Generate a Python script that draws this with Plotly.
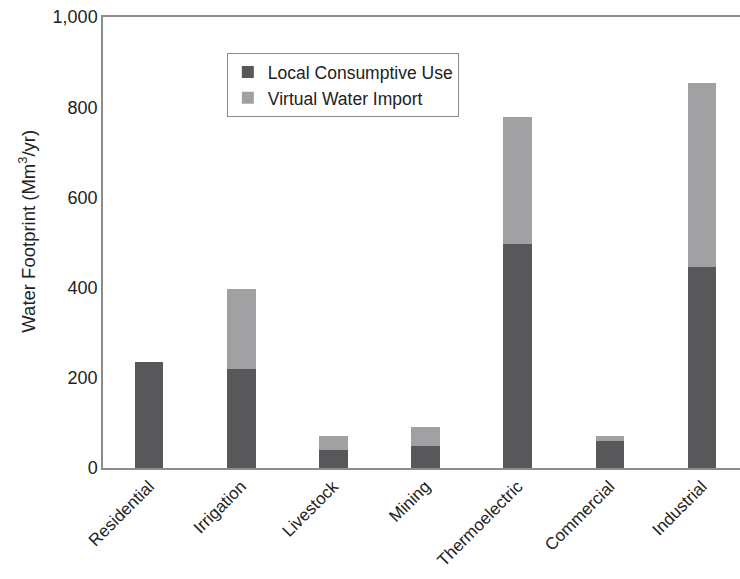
import plotly.graph_objects as go

categories = ["Residential", "Irrigation", "Livestock", "Mining", "Thermoelectric", "Commercial", "Industrial"]
local_use = [234, 220, 40, 49, 497, 59, 445]
virtual_import = [0, 178, 31, 43, 282, 13, 408]
y_ticks = [0, 200, 400, 600, 800, 1000]

dark = "#58585a"
light = "#a1a1a4"
font_family = "Liberation Sans, Arial, sans-serif"

fig = go.Figure()
fig.add_trace(go.Bar(x=categories, y=local_use, name="Local Consumptive Use",
                     marker=dict(color=dark, line=dict(width=0)), width=0.31))
fig.add_trace(go.Bar(x=categories, y=virtual_import, name="Virtual Water Import",
                     marker=dict(color=light, line=dict(width=0)), width=0.31))

fig.update_layout(
    barmode="stack",
    width=748, height=579,
    margin=dict(l=103, r=0, t=17, b=111),
    plot_bgcolor="white", paper_bgcolor="white",
    font=dict(family=font_family, size=17, color="#222222"),
    showlegend=True,
    legend=dict(x=0.192, y=0.92, xanchor="left", yanchor="top",
                bordercolor="#8a8a8a", borderwidth=1, bgcolor="white",
                font=dict(size=17.5, color="#222222"), traceorder="normal",
                itemwidth=30, tracegroupgap=2),
    xaxis=dict(range=[-0.5, 6.5], showline=True, linecolor="#8c8c8c", linewidth=1.5,
               mirror=True, ticks="", tickangle=-45, showgrid=False, automargin=False,
               tickfont=dict(size=17)),
    yaxis=dict(range=[0, 1000], tickvals=y_ticks, tickformat=",", showline=True,
               linecolor="#8c8c8c", linewidth=1.5, ticks="", showgrid=False, zeroline=False,
               automargin=False, tickfont=dict(size=18)),
    annotations=[dict(text="Water Footprint (Mm<sup>3</sup>/yr)", textangle=-90,
                      xref="paper", yref="paper", x=(27 - 103) / 645, y=0.524,
                      xanchor="center", yanchor="middle", showarrow=False,
                      font=dict(size=18.5, color="#222222"))],
)

fig.write_html("out.html", config={"displayModeBar": False},
               post_script="document.body.style.margin='0';document.body.style.overflow='hidden';")
